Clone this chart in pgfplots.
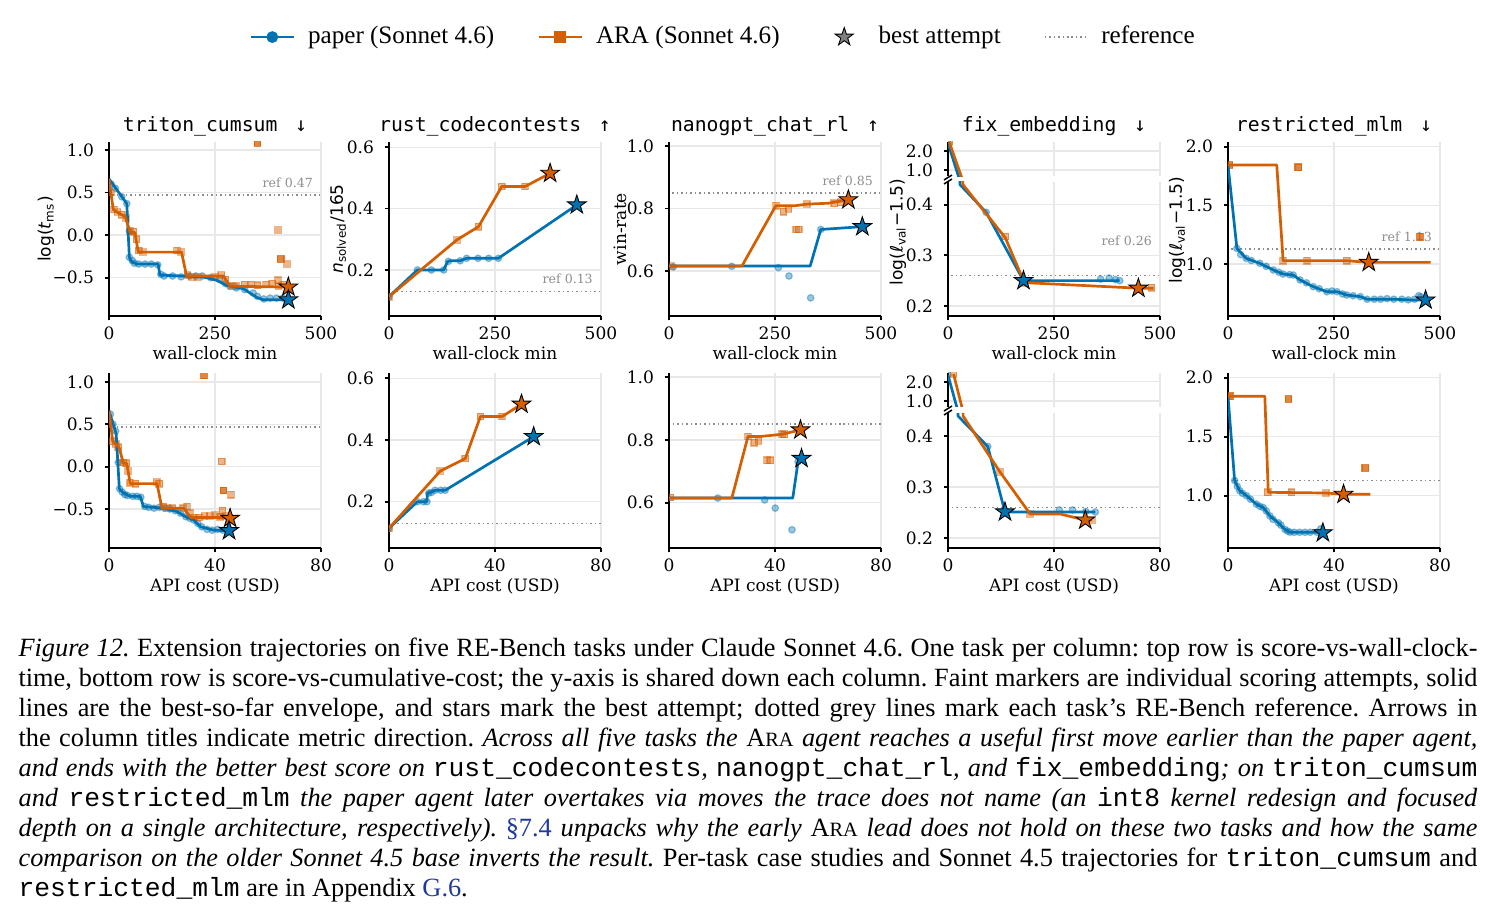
\documentclass[border=0pt]{standalone}
\usepackage{fontspec}
\setmainfont{Liberation Serif}
\setmonofont{Liberation Mono}
\newfontfamily\djserif{DejaVu Serif}
\newfontfamily\djsans{DejaVu Sans}
\newfontfamily\djmono{DejaVu Sans Mono}
\usepackage{xcolor}
\usepackage{pgfplots}
\pgfplotsset{compat=1.18}
\definecolor{cB}{HTML}{0072B2}
\definecolor{cO}{HTML}{D55E00}
\definecolor{linkblue}{HTML}{1F3A9A}
\newcommand\tickfont{\djserif\fontsize{5.7}{6.5}\selectfont}
\newcommand\titfont{\djmono\fontsize{6.6}{7.5}\selectfont}
\newcommand\reffont{\djserif\fontsize{4.2}{5}\selectfont}
\newcommand\legfont{\rmfamily\fontsize{8.4}{10}\selectfont}
\newcommand\capfont{\rmfamily\fontsize{8.8}{10.03}\selectfont}
\newcommand\capsp{\spaceskip=0.25em plus 0.25em minus 0.08em\relax\xspaceskip=0.25em plus 0.25em minus 0.08em\relax}
\newcommand\ara{A{\fontsize{6.8}{8}\selectfont RA}}
\newcommand\arr[1]{\hspace{0.9em}#1}
\pgfdeclareplotmark{fstar}{%
 \pgfpathmoveto{\pgfpointpolar{90}{\pgfplotmarksize}}%
 \pgfpathlineto{\pgfpointpolar{126}{0.382*\pgfplotmarksize}}%
 \pgfpathlineto{\pgfpointpolar{162}{\pgfplotmarksize}}%
 \pgfpathlineto{\pgfpointpolar{198}{0.382*\pgfplotmarksize}}%
 \pgfpathlineto{\pgfpointpolar{234}{\pgfplotmarksize}}%
 \pgfpathlineto{\pgfpointpolar{270}{0.382*\pgfplotmarksize}}%
 \pgfpathlineto{\pgfpointpolar{306}{\pgfplotmarksize}}%
 \pgfpathlineto{\pgfpointpolar{342}{0.382*\pgfplotmarksize}}%
 \pgfpathlineto{\pgfpointpolar{18}{\pgfplotmarksize}}%
 \pgfpathlineto{\pgfpointpolar{54}{0.382*\pgfplotmarksize}}%
 \pgfpathclose
 \pgfusepathqfillstroke}
\tikzset{reflab/.style={anchor=base east, font=\reffont, text=black!45, inner sep=0pt, yshift=2.5pt}}
\pgfplotsset{
  panel/.style={
    scale only axis, width=70.87pt,
    axis x line*=bottom, axis y line*=left,
    x axis line style={-, line width=0.6pt},
    y axis line style={-, line width=0.6pt},
    tick align=outside, major tick length=1.5pt,
    tick style={black, line width=0.6pt},
    grid=major, major grid style={line width=0.45pt, draw=black!9},
    tick label style={font=\tickfont},
    xticklabel style={yshift=1.4pt},
    label style={font=\tickfont},
    xlabel style={at={(axis description cs:0.5,0)}, anchor=base, yshift=-14.7pt},
    ylabel style={anchor=center},
    title style={font=\titfont, at={(axis description cs:0.5,1)}, anchor=base, yshift=-2.65pt},
    clip marker paths=true,
  },
  toprow/.style={panel, height=58.17pt, xmin=0, xmax=500, xtick={0,250,500}, xticklabels={0,250,500}, xlabel={wall-clock min}},
  botrow/.style={panel, height=58.5pt, xmin=0, xmax=80, xtick={0,40,80}, xticklabels={0,40,80}, xlabel={API cost (USD)}},
  bline/.style={color=cB, line width=0.9pt, no markers, line join=round},
  oline/.style={color=cO, line width=0.9pt, no markers, line join=round},
  bdot/.style={only marks, mark=*, mark size=1.1pt, color=cB, opacity=0.4, mark options={draw=none}},
  odot/.style={only marks, mark=square*, mark size=1.1pt, color=cO, opacity=0.45, mark options={draw=none}},
  odotd/.style={only marks, mark=square*, mark size=1.1pt, color=cO, opacity=0.75, mark options={draw=none}},
  bstar/.style={only marks, mark=fstar, mark size=3.3pt, mark options={fill=cB, draw=black, line width=0.3pt}},
  ostar/.style={only marks, mark=fstar, mark size=3.3pt, mark options={fill=cO, draw=black, line width=0.3pt}},
  refl/.style={color=black!45, densely dotted, line width=0.5pt, no markers},
}
\begin{document}
\begin{tikzpicture}[x=0.3343pt, y=-0.3343pt]
\path[use as bounding box] (0,0) rectangle (1496,917);

% ---------------- P1 triton wall
\begin{axis}[toprow, at={(36.44pt,-105.64pt)}, anchor=south west,
  ymin=-0.95, ymax=1.094, ytick={-0.5,0,0.5,1}, yticklabels={−0.5,0.0,0.5,1.0},
  title={triton\_cumsum\arr{↓}},
  ylabel={\djsans log(\textit{t}\textsubscript{ms})},
  ylabel style={at={(axis description cs:-0.297,0.5)}},
  legend columns=4,
  legend cell align=left,
  legend style={font=\legfont, draw=none, fill=none, at={(axis description cs:2.906,1.603)}, anchor=center,
    /tikz/every odd column/.append style={column sep=2.3pt},
    /tikz/every even column/.append style={column sep=12.4pt}, inner sep=0pt},
]
\addlegendimage{legend image code/.code={\draw[cB, line width=0.9pt, mark=*, mark size=1.5pt, mark repeat=2, mark phase=2] plot coordinates {(0pt,0pt) (7.2pt,0pt) (14.4pt,0pt)};}}
\addlegendentry{paper (Sonnet 4.6)}
\addlegendimage{legend image code/.code={\draw[cO, line width=0.9pt, mark=square*, mark size=1.5pt, mark repeat=2, mark phase=2] plot coordinates {(0pt,0pt) (7.2pt,0pt) (14.4pt,0pt)};}}
\addlegendentry{ARA (Sonnet 4.6)}
\addlegendimage{legend image code/.code={\draw[draw=none, mark=fstar, mark size=3.2pt, mark options={fill=black!50, draw=black, line width=0.3pt}, mark repeat=2, mark phase=2] plot coordinates {(0pt,0pt) (7.2pt,0pt) (14.4pt,0pt)};}}
\addlegendentry{best attempt}
\addlegendimage{legend image code/.code={\draw[black!45, densely dotted, line width=0.5pt] (0pt,0pt) -- (14.4pt,0pt);}}
\addlegendentry{reference}
\addplot[refl] coordinates {(8,0.47) (500,0.47)};
\node[reflab] at (axis cs:482,0.47) {ref 0.47};
\addplot[bdot] coordinates {(5,0.6)(15,0.55)(30,0.45)(42,0.37)(48,0.05)(48,-0.26)(55,-0.3)(60,-0.33)(70,-0.34)(85,-0.34)(100,-0.34)(115,-0.35)(122,-0.46)(130,-0.48)(150,-0.48)(170,-0.49)(190,-0.48)(205,-0.48)(220,-0.48)(240,-0.5)(260,-0.52)(275,-0.57)(285,-0.6)(300,-0.62)(320,-0.64)(340,-0.68)(350,-0.72)(365,-0.75)(380,-0.74)(395,-0.74)(410,-0.74)};
\addplot[odot] coordinates {(5,0.5)(12,0.3)(20,0.27)(30,0.24)(40,0.2)(50,0.05)(58,0.04)(65,-0.05)(70,-0.18)(80,-0.2)(160,-0.18)(170,-0.2)(185,-0.47)(195,-0.49)(210,-0.49)(250,-0.49)(265,-0.47)(275,-0.52)(290,-0.6)(300,-0.6)(320,-0.58)(335,-0.58)(350,-0.59)(370,-0.58)(385,-0.57)(400,-0.6)(410,-0.58)(399,0.06)(420,-0.34)(399,-0.53)};
\addplot[odotd] coordinates {(350,1.08)(405,-0.28)};
\addplot[bline] coordinates {(0,0.66)(42,0.37)(48,-0.26)(53,-0.31)(65,-0.34)(116,-0.34)(120,-0.47)(222,-0.49)(254,-0.53)(277,-0.59)(317,-0.63)(348,-0.73)(364,-0.76)(423,-0.76)};
\addplot[oline] coordinates {(0,0.66)(10,0.3)(22,0.26)(38,0.22)(50,0.03)(61,0.03)(69,-0.2)(171,-0.2)(183,-0.48)(270,-0.48)(285,-0.6)(420,-0.61)};
\addplot[ostar] coordinates {(423,-0.61)};
\addplot[bstar] coordinates {(423,-0.76)};
\end{axis}

% ---------------- P2 rust wall
\begin{axis}[toprow, at={(130.04pt,-105.64pt)}, anchor=south west,
  ymin=0.05, ymax=0.617, ytick={0.2,0.4,0.6}, yticklabels={0.2,0.4,0.6},
  title={rust\_codecontests\arr{↑}},
  ylabel={\djsans\textit{n}\textsubscript{solved}/165},
  ylabel style={at={(axis description cs:-0.24,0.5)}},
]
\addplot[refl] coordinates {(8,0.13) (500,0.13)};
\node[reflab] at (axis cs:482,0.13) {ref 0.13};
\addplot[bdot] coordinates {(0,0.113)(67,0.2)(100,0.2)(129,0.2)(140,0.228)(168,0.23)(183,0.238)(210,0.238)(235,0.238)(258,0.238)};
\addplot[odot] coordinates {(0,0.113)(160,0.298)(211,0.341)(266,0.472)(321,0.472)};
\addplot[bline] coordinates {(0,0.113)(67,0.2)(129,0.2)(138,0.227)(144,0.23)(168,0.23)(183,0.238)(258,0.238)(443,0.412)};
\addplot[oline] coordinates {(0,0.113)(160,0.298)(211,0.341)(266,0.472)(321,0.472)(380,0.515)};
\addplot[ostar] coordinates {(380,0.515)};
\addplot[bstar] coordinates {(443,0.412)};
\end{axis}

% ---------------- P3 nanogpt wall
\begin{axis}[toprow, at={(223.65pt,-105.64pt)}, anchor=south west,
  ymin=0.456, ymax=1.013, ytick={0.6,0.8,1.0}, yticklabels={0.6,0.8,1.0},
  title={nanogpt\_chat\_rl\arr{↑}},
  ylabel={win-rate},
  ylabel style={at={(axis description cs:-0.23,0.5)}},
]
\addplot[refl] coordinates {(8,0.85) (500,0.85)};
\node[reflab] at (axis cs:482,0.85) {ref 0.85};
\addplot[bdot] coordinates {(10,0.613)(148,0.615)(258,0.611)(283,0.584)(334,0.514)(358,0.733)(221,0.452)};
\addplot[odot] coordinates {(5,0.616)(252,0.809)(270,0.79)(282,0.798)(300,0.733)(306,0.733)(325,0.814)(390,0.817)(405,0.82)};
\addplot[bline] coordinates {(0,0.616)(333,0.616)(358,0.733)(456,0.742)};
\addplot[oline] coordinates {(0,0.616)(172,0.616)(252,0.809)(297,0.809)(325,0.814)(376,0.817)(423,0.828)};
\addplot[ostar] coordinates {(423,0.828)};
\addplot[bstar] coordinates {(456,0.742)};
\end{axis}

% ---------------- P4 fix_embedding wall (broken axis)
\begin{axis}[panel, height=11.37pt, at={(316.92pt,-58.84pt)}, anchor=south west,
  xmin=0, xmax=500, xtick={0,250,500}, xticklabels={}, x axis line style={draw=none}, xtick style={draw=none},
  ymin=0.69, ymax=2.46, ytick={1,2}, yticklabels={1.0,2.0},
  title={fix\_embedding\arr{↓}},
]
\addplot[bdot] coordinates {(0,2.4)};
\addplot[odot] coordinates {(3,2.45)};
\addplot[bline] coordinates {(0,2.4)(28,0.44)(90,0.385)};
\addplot[oline] coordinates {(3,2.45)(35,0.44)(135,0.335)};
\end{axis}
\begin{axis}[toprow, height=44.8pt, at={(316.92pt,-105.64pt)}, anchor=south west,
  ymin=0.18, ymax=0.445, ytick={0.2,0.3,0.4}, yticklabels={0.2,0.3,0.4},
  ylabel={\djsans log(ℓ\textsubscript{val}−1.5)},
  ylabel style={at={(axis description cs:-0.236,0.627)}},
]
\addplot[refl] coordinates {(8,0.26) (500,0.26)};
\node[reflab, yshift=0pt] at (axis cs:482,0.304) {ref 0.26};
\addplot[bdot] coordinates {(90,0.385)(178,0.25)(360,0.253)(380,0.255)(395,0.252)(405,0.25)};
\addplot[odot] coordinates {(135,0.337)(180,0.245)(480,0.236)};
\addplot[bline] coordinates {(0,2.4)(28,0.44)(90,0.385)(178,0.25)(405,0.25)};
\addplot[oline] coordinates {(3,2.45)(35,0.44)(135,0.335)(180,0.246)(449,0.235)(485,0.235)};
\addplot[ostar] coordinates {(449,0.235)};
\addplot[bstar] coordinates {(178,0.25)};
\end{axis}
\draw[line width=0.5pt] (944,180) -- (952,175) (944,184) -- (952,179);

% ---------------- P5 restricted_mlm wall
\begin{axis}[toprow, at={(410.52pt,-105.64pt)}, anchor=south west,
  ymin=0.557, ymax=2.04, ytick={1.0,1.5,2.0}, yticklabels={1.0,1.5,2.0},
  title={restricted\_mlm\arr{↓}},
  ylabel={\djsans log(ℓ\textsubscript{val}−1.5)},
  ylabel style={at={(axis description cs:-0.24,0.494)}},
]
\addplot[refl] coordinates {(8,1.13) (500,1.13)};
\node[reflab] at (axis cs:482,1.13) {ref 1.13};
\addplot[bdot] coordinates {(21,1.133)(30,1.08)(43,1.048)(55,1.03)(75,1.006)(90,0.98)(107,0.949)(120,0.93)(130,0.915)(145,0.91)(154,0.906)(170,0.864)(185,0.84)(201,0.807)(215,0.79)(233,0.764)(245,0.77)(257,0.764)(270,0.745)(280,0.736)(295,0.73)(312,0.722)(328,0.7)(345,0.7)(360,0.7)(375,0.705)(391,0.7)(410,0.7)(425,0.695)(440,0.7)(450,0.73)(455,0.72)};
\addplot[odot] coordinates {(130,1.028)(186,1.028)(280,1.028)};
\addplot[odotd] coordinates {(3,1.844)(166,1.824)(453,1.233)};
\addplot[bline] coordinates {(0,1.844)(21,1.133)(43,1.048)(75,1.006)(107,0.949)(130,0.915)(154,0.906)(170,0.864)(201,0.807)(233,0.764)(257,0.764)(280,0.736)(312,0.722)(328,0.7)(391,0.7)(438,0.693)(466,0.693)};
\addplot[oline] coordinates {(0,1.844)(115,1.844)(130,1.028)(280,1.028)(332,1.014)(478,1.014)};
\addplot[ostar] coordinates {(332,1.014)};
\addplot[bstar] coordinates {(466,0.693)};
\end{axis}

% ================= bottom row
% ---------------- P6 triton cost
\begin{axis}[botrow, at={(36.44pt,-183.2pt)}, anchor=south west,
  ymin=-0.96, ymax=1.106, ytick={-0.5,0,0.5,1}, yticklabels={−0.5,0.0,0.5,1.0},
]
\addplot[refl] coordinates {(3,0.47) (80,0.47)};
\addplot[bdot] coordinates {(0.5,0.62)(1.5,0.5)(2.5,0.42)(3.5,0.05)(4,-0.26)(5,-0.3)(6,-0.33)(7,-0.34)(9,-0.35)(10.5,-0.35)(12,-0.36)(13.5,-0.47)(15,-0.48)(17,-0.49)(19,-0.48)(21,-0.49)(23,-0.5)(25,-0.52)(27,-0.55)(29,-0.59)(30.5,-0.61)(32,-0.63)(33.5,-0.67)(35,-0.71)(37,-0.74)(39,-0.75)(41,-0.74)(43,-0.75)};
\addplot[odot] coordinates {(0.5,0.5)(1.4,0.3)(2.5,0.27)(3.5,0.23)(5.4,0.05)(6.5,0.04)(7.2,-0.05)(8,-0.19)(10,-0.2)(18,-0.18)(19,-0.2)(20.5,-0.47)(22,-0.49)(24,-0.49)(28,-0.49)(29.5,-0.47)(30.5,-0.55)(32,-0.6)(34,-0.6)(36,-0.58)(38,-0.58)(40,-0.57)(42,-0.59)(44,-0.58)(42.5,0.06)(46,-0.33)(42.8,-0.52)};
\addplot[odotd] coordinates {(35.8,1.08)(43.2,-0.28)};
\addplot[bline] coordinates {(0,0.66)(2.7,0.39)(3.9,-0.26)(5.4,-0.31)(8,-0.35)(11.8,-0.35)(13,-0.47)(20.6,-0.49)(25.7,-0.53)(28.9,-0.59)(32,-0.63)(34.6,-0.71)(39.6,-0.75)(45.3,-0.756)};
\addplot[oline] coordinates {(0,0.66)(1.4,0.3)(2.9,0.26)(3.9,0.22)(5.4,0.04)(6.7,0.04)(8,-0.2)(18.1,-0.2)(20,-0.49)(28.2,-0.49)(30.8,-0.6)(44.7,-0.6)(45.7,-0.61)};
\addplot[ostar] coordinates {(45.7,-0.61)};
\addplot[bstar] coordinates {(45.3,-0.756)};
\end{axis}

% ---------------- P7 rust cost
\begin{axis}[botrow, at={(130.04pt,-183.2pt)}, anchor=south west,
  ymin=0.05, ymax=0.617, ytick={0.2,0.4,0.6}, yticklabels={0.2,0.4,0.6},
]
\addplot[refl] coordinates {(1.5,0.13) (80,0.13)};
\addplot[bdot] coordinates {(0,0.114)(10.7,0.2)(13,0.2)(14.3,0.2)(15,0.228)(16,0.23)(17.4,0.237)(19.5,0.237)(21.2,0.237)};
\addplot[odot] coordinates {(0,0.114)(19.3,0.299)(28.8,0.34)(34.5,0.476)(42.7,0.476)};
\addplot[bline] coordinates {(0,0.114)(10.7,0.2)(14.3,0.2)(14.5,0.228)(15.5,0.23)(17.4,0.237)(21.2,0.237)(54.6,0.411)};
\addplot[oline] coordinates {(0,0.114)(19.3,0.299)(28.8,0.34)(34.5,0.476)(42.7,0.476)(50,0.516)};
\addplot[ostar] coordinates {(50,0.516)};
\addplot[bstar] coordinates {(54.6,0.411)};
\end{axis}

% ---------------- P8 nanogpt cost
\begin{axis}[botrow, at={(223.65pt,-183.2pt)}, anchor=south west,
  ymin=0.456, ymax=1.013, ytick={0.6,0.8,1.0}, yticklabels={0.6,0.8,1.0},
]
\addplot[refl] coordinates {(1.5,0.85) (80,0.85)};
\addplot[bdot] coordinates {(18.4,0.615)(36.1,0.609)(40.1,0.583)(46.4,0.514)(29.4,0.45)(48.7,0.731)};
\addplot[odot] coordinates {(0.5,0.617)(29.8,0.811)(32.2,0.791)(33.8,0.797)(37,0.735)(38.2,0.735)(42.7,0.818)(43.5,0.818)};
\addplot[bline] coordinates {(0,0.615)(46.7,0.615)(48.7,0.731)(50,0.741)};
\addplot[oline] coordinates {(0,0.615)(23.7,0.615)(29.8,0.811)(34.5,0.811)(42.7,0.818)(49.6,0.832)};
\addplot[ostar] coordinates {(49.6,0.832)};
\addplot[bstar] coordinates {(50,0.741)};
\end{axis}

% ---------------- P9 fix_embedding cost (broken)
\begin{axis}[panel, height=11.37pt, at={(316.92pt,-136.06pt)}, anchor=south west,
  xmin=0, xmax=80, xtick={0,40,80}, xticklabels={}, x axis line style={draw=none}, xtick style={draw=none},
  ymin=0.69, ymax=2.46, ytick={1,2}, yticklabels={1.0,2.0},
]
\addplot[bdot] coordinates {(0,2.35)};
\addplot[odot] coordinates {(2.1,2.4)};
\addplot[bline] coordinates {(0,2.35)(3.8,0.44)(15,0.38)};
\addplot[oline] coordinates {(2.1,2.4)(5.7,0.44)(19.6,0.33)};
\end{axis}
\begin{axis}[botrow, height=45.13pt, at={(316.92pt,-183.2pt)}, anchor=south west,
  ymin=0.18, ymax=0.446, ytick={0.2,0.3,0.4}, yticklabels={0.2,0.3,0.4},
]
\addplot[refl] coordinates {(1.5,0.26) (80,0.26)};
\addplot[bdot] coordinates {(15,0.38)(21.5,0.251)(42,0.255)(47,0.255)(52,0.252)(55.6,0.251)};
\addplot[odot] coordinates {(19.6,0.33)(31,0.247)(54.4,0.235)};
\addplot[bline] coordinates {(0,2.35)(3.8,0.44)(15,0.38)(21.5,0.251)(55.6,0.251)};
\addplot[oline] coordinates {(2.1,2.4)(5.7,0.44)(19.6,0.33)(31,0.247)(42.3,0.247)(51.8,0.235)(54.4,0.235)};
\addplot[ostar] coordinates {(51.8,0.235)};
\addplot[bstar] coordinates {(21.5,0.251)};
\end{axis}
\draw[line width=0.5pt] (944,411) -- (952,406) (944,415) -- (952,410);

% ---------------- P10 restricted cost
\begin{axis}[botrow, at={(410.52pt,-183.2pt)}, anchor=south west,
  ymin=0.557, ymax=2.04, ytick={1.0,1.5,2.0}, yticklabels={1.0,1.5,2.0},
]
\addplot[refl] coordinates {(1.5,1.13) (80,1.13)};
\addplot[bdot] coordinates {(2.5,1.129)(3.5,1.08)(4.4,1.043)(5.5,1.02)(7,1.0)(8.5,0.97)(10.7,0.929)(12,0.91)(13.3,0.9)(14.5,0.87)(15.8,0.829)(17,0.8)(19,0.771)(20,0.75)(21.5,0.714)(22.5,0.7)(23.4,0.691)(25,0.69)(27,0.69)(29,0.69)(31,0.69)(33.5,0.691)(35,0.72)};
\addplot[odot] coordinates {(15,1.029)(24,1.029)(36.9,1.023)};
\addplot[odotd] coordinates {(0.8,1.843)(22.8,1.82)(51.8,1.234)};
\addplot[bline] coordinates {(0,1.843)(2.5,1.129)(4.4,1.043)(7,1.0)(10.7,0.929)(13.3,0.9)(15.8,0.829)(19,0.771)(21.5,0.714)(23.4,0.691)(33.5,0.691)(35.8,0.686)};
\addplot[oline] coordinates {(0,1.843)(13.9,1.843)(15.2,1.029)(36.9,1.023)(43.6,1.012)(53.7,1.012)};
\addplot[ostar] coordinates {(43.6,1.012)};
\addplot[bstar] coordinates {(35.8,0.686)};
\end{axis}

% ---------------- caption
\node[anchor=north west, inner sep=0pt, text width=487.7pt, align=justify, font=\capfont] at (18,637) {\capsp
\makebox[487.7pt][s]{\textit{Figure 12.} Extension trajectories on five RE-Bench tasks under Claude Sonnet 4.6. One task per column: top row is score-vs-wall-clock-}\\
\makebox[487.7pt][s]{time, bottom row is score-vs-cumulative-cost; the y-axis is shared down each column. Faint markers are individual scoring attempts, solid}\\
\makebox[487.7pt][s]{lines are the best-so-far envelope, and stars mark the best attempt; dotted grey lines mark each task’s RE-Bench reference. Arrows in}\\
\makebox[487.7pt][s]{the column titles indicate metric direction. \textit{Across all five tasks the} \ara{} \textit{agent reaches a useful first move earlier than the paper agent,}}\\
\makebox[487.7pt][s]{\textit{and ends with the better best score on} \texttt{rust\_codecontests}\textit{,} \texttt{nanogpt\_chat\_rl}\textit{, and} \texttt{fix\_embedding}\textit{; on} \texttt{triton\_cumsum}}\\
\makebox[487.7pt][s]{\textit{and} \texttt{restricted\_mlm} \textit{the paper agent later overtakes via moves the trace does not name (an} \texttt{int8} \textit{kernel redesign and focused}}\\
\makebox[487.7pt][s]{\textit{depth on a single architecture, respectively).} {\color{linkblue}\S7.4} \textit{unpacks why the early} \ara{} \textit{lead does not hold on these two tasks and how the same}}\\
\makebox[487.7pt][s]{\textit{comparison on the older Sonnet 4.5 base inverts the result.} Per-task case studies and Sonnet 4.5 trajectories for \texttt{triton\_cumsum} and}\\
\texttt{restricted\_mlm} are in Appendix {\color{linkblue}G.6}.\par};
\end{tikzpicture}
\end{document}
